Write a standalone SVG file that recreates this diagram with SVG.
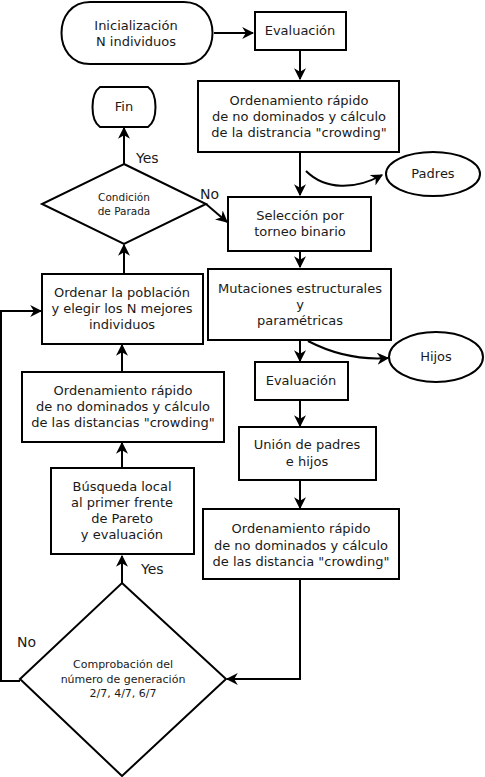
<svg xmlns="http://www.w3.org/2000/svg" width="485" height="777" viewBox="0 0 485 777">
<defs>
<marker id="ah" viewBox="0 0 10 10" refX="9" refY="5" markerWidth="6" markerHeight="6" markerUnits="strokeWidth" orient="auto">
<path d="M0,0 L10,5 L0,10 L3,5 z" fill="#000"/>
</marker>
<style>
.s{fill:#fff;stroke:#000;stroke-width:2}
.c{fill:none;stroke:#000;stroke-width:2;marker-end:url(#ah)}
.t{font-family:"DejaVu Sans",sans-serif;font-size:13px;fill:#1a1a1a;text-anchor:middle}
.ts{font-family:"DejaVu Sans",sans-serif;font-size:10.5px;fill:#1a1a1a;text-anchor:middle}
.tm{font-family:"DejaVu Sans",sans-serif;font-size:11px;fill:#1a1a1a;text-anchor:middle}
.l{font-family:"DejaVu Sans",sans-serif;font-size:14px;fill:#1a1a1a}
</style>
</defs>
<rect width="485" height="777" fill="#fff"/>
<g id="connectors">
<path class="c" d="M214,33 H253"/>
<path class="c" d="M300,50 V79"/>
<path class="c" d="M300,152 V195"/>
<path class="c" d="M306,171 C325,190 355,190 382,175"/>
<path class="c" d="M206,204 L227,222"/>
<path class="c" d="M300,251 V267"/>
<path class="c" d="M300,340 V361"/>
<path class="c" d="M308,341 C335,355 360,360 388,358"/>
<path class="c" d="M300,400 V426"/>
<path class="c" d="M300,480 V508"/>
<path class="c" d="M300,579 V679 H227"/>
<path class="c" d="M122,583 V556"/>
<path class="c" d="M122,468 V443"/>
<path class="c" d="M122,372 V345"/>
<path class="c" d="M124,274 V245"/>
<path class="c" d="M124,164 V128"/>
<path class="c" d="M20,681 H1 V311 H41"/>
<text class="l" x="136" y="163">Yes</text>
<text class="l" x="200" y="199">No</text>
<text class="l" x="141" y="574">Yes</text>
<text class="l" x="17" y="647">No</text>
</g>
<g id="inicializacion">
<path class="s" d="M90,2 H184 C222,2 222,64 184,64 H90 C52,64 52,2 90,2 Z"/>
<text class="t" x="136" y="30">Inicialización</text>
<text class="t" x="136" y="46">N individuos</text>
</g>
<g id="evaluacion1">
<rect class="s" x="255" y="12" width="91" height="38"/>
<text class="t" x="300" y="35">Evaluación</text>
</g>
<g id="ordenamiento1">
<rect class="s" x="198" y="81" width="201" height="71"/>
<text class="t" x="299" y="105">Ordenamiento rápido</text>
<text class="t" x="299" y="121">de no dominados y cálculo</text>
<text class="t" x="299" y="137">de la distrancia "crowding"</text>
</g>
<g id="padres">
<ellipse class="s" cx="433" cy="174" rx="47" ry="22"/>
<text class="t" x="433" y="178">Padres</text>
</g>
<g id="fin">
<path class="s" d="M100,87 H148 C158,94 158,120 148,127 H100 C90,120 90,94 100,87 Z"/>
<text class="t" x="124" y="111">Fin</text>
</g>
<g id="condicion">
<path class="s" d="M124,164 L206,204 L124,244 L42,204 Z"/>
<text class="ts" x="124" y="201">Condición</text>
<text class="ts" x="124" y="215">de Parada</text>
</g>
<g id="seleccion">
<rect class="s" x="228" y="197" width="143" height="54"/>
<text class="t" x="300" y="220">Selección por</text>
<text class="t" x="300" y="236">torneo binario</text>
</g>
<g id="mutaciones">
<rect class="s" x="208" y="269" width="183" height="71"/>
<text class="t" x="300" y="293">Mutaciones estructurales</text>
<text class="t" x="300" y="309">y</text>
<text class="t" x="300" y="325">paramétricas</text>
</g>
<g id="hijos">
<ellipse class="s" cx="436" cy="357" rx="47" ry="25"/>
<text class="t" x="436" y="361">Hijos</text>
</g>
<g id="ordenar">
<rect class="s" x="42" y="274" width="161" height="70"/>
<text class="t" x="122" y="297">Ordenar la población</text>
<text class="t" x="122" y="313">y elegir los N mejores</text>
<text class="t" x="122" y="329">individuos</text>
</g>
<g id="evaluacion2">
<rect class="s" x="255" y="362" width="93" height="38"/>
<text class="t" x="301" y="385">Evaluación</text>
</g>
<g id="ordenamiento2">
<rect class="s" x="22" y="372" width="202" height="70"/>
<text class="t" x="123" y="395">Ordenamiento rápido</text>
<text class="t" x="123" y="411">de no dominados y cálculo</text>
<text class="t" x="123" y="427">de las distancias "crowding"</text>
</g>
<g id="union">
<rect class="s" x="239" y="427" width="137" height="53"/>
<text class="t" x="307" y="449">Unión de padres</text>
<text class="t" x="307" y="466">e hijos</text>
</g>
<g id="busqueda">
<rect class="s" x="51" y="468" width="143" height="86"/>
<text class="t" x="122" y="491">Búsqueda local</text>
<text class="t" x="122" y="507">al primer frente</text>
<text class="t" x="122" y="523">de Pareto</text>
<text class="t" x="122" y="539">y evaluación</text>
</g>
<g id="ordenamiento3">
<rect class="s" x="203" y="509" width="196" height="70"/>
<text class="t" x="301" y="533">Ordenamiento rápido</text>
<text class="t" x="301" y="550">de no dominados y cálculo</text>
<text class="t" x="301" y="566">de las distancia "crowding"</text>
</g>
<g id="comprobacion">
<path class="s" d="M122,583 L226,679 L122,776 L20,679 Z"/>
<text class="tm" x="123" y="668">Comprobación del</text>
<text class="tm" x="123" y="683">número de generación</text>
<text class="tm" x="123" y="697">2/7, 4/7, 6/7</text>
</g>
</svg>
